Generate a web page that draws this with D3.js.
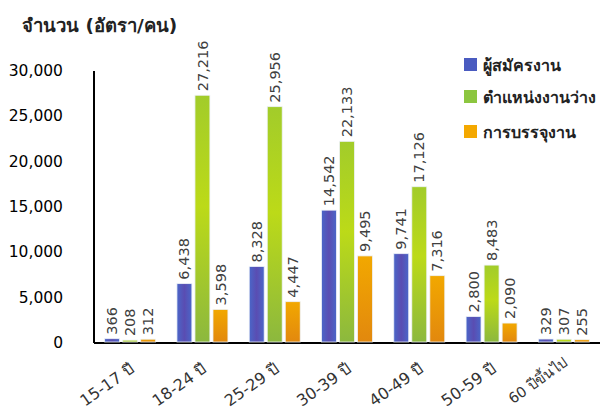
<!DOCTYPE html>
<html>
<head>
<meta charset="utf-8">
<script src="https://cdn.jsdelivr.net/npm/d3@7"></script>
<style>
  html, body { margin: 0; padding: 0; background: #fff; }
  svg { display: block; }
</style>
</head>
<body>
<svg id="chart" width="603" height="414"></svg>
<script>
const categories = ["15-17 ปี", "18-24 ปี", "25-29 ปี", "30-39 ปี", "40-49 ปี", "50-59 ปี", "60 ปีขึ้นไป"];
const seriesNames = ["ผู้สมัครงาน", "ตำแหน่งงานว่าง", "การบรรจุงาน"];
const applicants = [366, 6438, 8328, 14542, 9741, 2800, 329];
const vacancies = [208, 27216, 25956, 22133, 17126, 8483, 307];
const placements = [312, 3598, 4447, 9495, 7316, 2090, 255];
const yTicks = [0, 5000, 10000, 15000, 20000, 25000, 30000];
const yTitle = "จำนวน (อัตรา/คน)";

const seriesValues = [applicants, vacancies, placements];
const fontTh = "'DejaVu Sans', 'Noto Sans', sans-serif";

const svg = d3.select("#chart");
const defs = svg.append("defs");

// gradients
const gBlue = defs.append("linearGradient").attr("id", "g0").attr("x1", "0").attr("x2", "1").attr("y1", "0").attr("y2", "0");
gBlue.append("stop").attr("offset", "0%").attr("stop-color", "#4a66c8");
gBlue.append("stop").attr("offset", "50%").attr("stop-color", "#5a4db2");
gBlue.append("stop").attr("offset", "100%").attr("stop-color", "#4a66c8");
const gGreen = defs.append("linearGradient").attr("id", "g1").attr("x1", "0").attr("x2", "0").attr("y1", "0").attr("y2", "1");
gGreen.append("stop").attr("offset", "0%").attr("stop-color", "#a2cc2a");
gGreen.append("stop").attr("offset", "45%").attr("stop-color", "#bcda18");
gGreen.append("stop").attr("offset", "100%").attr("stop-color", "#8cb83e");
const gOrange = defs.append("linearGradient").attr("id", "g2").attr("x1", "0").attr("x2", "0").attr("y1", "0").attr("y2", "1");
gOrange.append("stop").attr("offset", "0%").attr("stop-color", "#f2a800");
gOrange.append("stop").attr("offset", "100%").attr("stop-color", "#e2880e");

const fills = ["url(#g0)", "url(#g1)", "url(#g2)"];
const legendColors = ["#4a5bc0", "#8cc63f", "#f4a800"];

const x0 = 94, x1 = 600, yBase = 342, yTop = 70;

const x = d3.scaleBand().domain(categories).range([x0, x1]).padding(0);
const bw = x.bandwidth();
const groupW = 51;
const xi = d3.scaleBand().domain(d3.range(3)).range([(bw - groupW) / 2, (bw + groupW) / 2]).paddingInner(0.17);
const y = d3.scaleLinear().domain([0, 30000]).range([yBase, yTop]);

// y axis title
svg.append("text")
  .attr("x", 22).attr("y", 32)
  .attr("font-family", fontTh).attr("font-size", 18.5).attr("font-weight", "bold")
  .attr("fill", "#222")
  .text(yTitle);

// y tick labels
const yAxis = d3.axisLeft(y).tickValues(yTicks).tickSize(0).tickPadding(0).tickFormat(d3.format(","));
const yg = svg.append("g").attr("transform", `translate(63,0)`).call(yAxis);
yg.select(".domain").remove();
yg.selectAll("text").attr("font-family", fontTh).attr("font-size", 15.5).attr("fill", "#000").attr("dy", "0.35em");

// axis lines
svg.append("line").attr("x1", x0).attr("x2", x0).attr("y1", yTop + 1).attr("y2", yBase + 1)
  .attr("stroke", "#000").attr("stroke-width", 2);
const xAxis = d3.axisBottom(x).tickSize(0).tickPadding(0);
const xg = svg.append("g").attr("transform", `translate(0,${yBase})`).call(xAxis);
xg.select(".domain").attr("stroke", "#000").attr("stroke-width", 2).attr("d", `M${x0},1H${x1}`);
xg.selectAll("text")
  .attr("font-family", fontTh)
  .attr("font-size", (d, i) => i === categories.length - 1 ? 14.5 : 16)
  .attr("fill", "#333")
  .attr("text-anchor", "end")
  .attr("transform", (d, i) => i === categories.length - 1 ? "translate(2,19) rotate(-35)" : "translate(2,25) rotate(-35)")
  .attr("dy", "0.35em").attr("y", 0);

// bars
seriesValues.forEach((vals, si) => {
  const g = svg.append("g");
  g.selectAll("rect").data(vals).join("rect")
    .attr("x", (d, i) => x(categories[i]) + xi(si))
    .attr("y", d => y(d))
    .attr("width", xi.bandwidth())
    .attr("height", d => yBase - y(d))
    .attr("fill", fills[si])
    .attr("stroke", "#eef2f8").attr("stroke-width", 0.8);
  g.selectAll("text").data(vals).join("text")
    .attr("transform", (d, i) => `translate(${x(categories[i]) + xi(si) + xi.bandwidth() / 2},${y(d) - 4}) rotate(-90)`)
    .attr("dy", "0.35em")
    .attr("font-family", fontTh).attr("font-size", 14.5).attr("fill", "#404040")
    .text(d => d3.format(",")(d));
});

// legend
const legendY = [65, 97, 132];
seriesNames.forEach((name, i) => {
  svg.append("rect").attr("x", 464).attr("y", legendY[i] - 7).attr("width", 13).attr("height", 13)
    .attr("fill", legendColors[i]);
  svg.append("text").attr("x", 483).attr("y", legendY[i]).attr("dy", "0.35em")
    .attr("font-family", fontTh).attr("font-size", 16).attr("font-weight", "bold").attr("fill", "#222")
    .text(name);
});
</script>
</body>
</html>
